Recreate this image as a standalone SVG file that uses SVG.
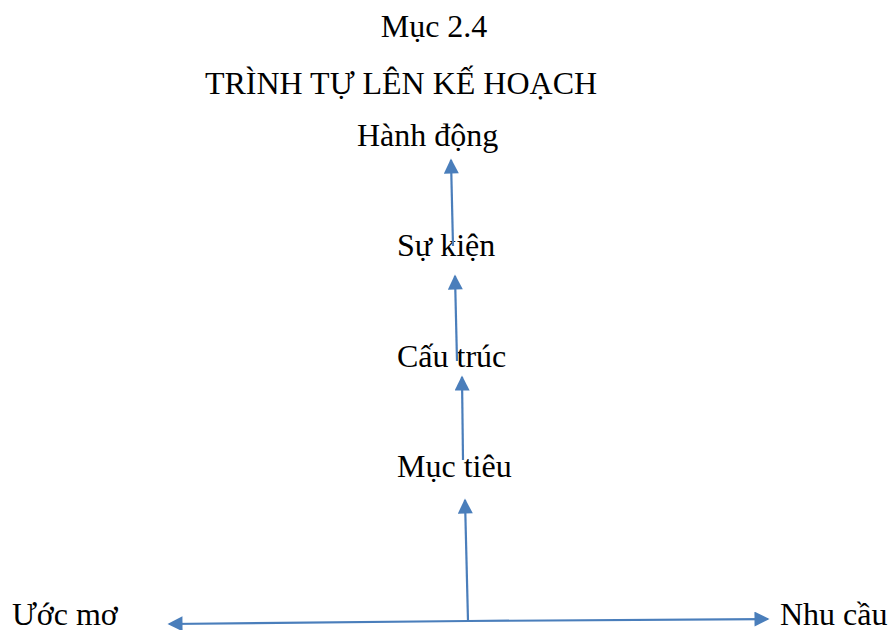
<svg xmlns="http://www.w3.org/2000/svg" width="890" height="630" viewBox="0 0 890 630">
<style>
text{font-family:"Liberation Serif","Times New Roman",serif;font-size:32px;fill:#000}
.c line{stroke:#4a7ebb;stroke-width:2.2;fill:none;marker-end:url(#ah)}
</style>
<defs>
<marker id="ah" viewBox="0 0 10 10" refX="9" refY="5" markerUnits="userSpaceOnUse" markerWidth="18" markerHeight="15" orient="auto">
<path d="M0,0 L10,5 L0,10 Z" fill="#4a7ebb"/>
</marker>
</defs>
<rect width="890" height="630" fill="#fff"/>
<g id="title"><text x="434" y="37" text-anchor="middle">Mục 2.4</text>
<text x="401" y="94" text-anchor="middle">TRÌNH TỰ LÊN KẾ HOẠCH</text></g>
<g id="hanhdong"><text x="357" y="146">Hành động</text></g>
<g id="sukien"><text x="397" y="256">Sự kiện</text></g>
<g id="cautruc"><text x="397" y="367">Cấu trúc</text></g>
<g id="muctieu"><text x="397" y="477">Mục tiêu</text></g>
<g id="uocmo"><text x="12" y="625">Ước mơ</text></g>
<g id="nhucau"><text x="780" y="625">Nhu cầu</text></g>
<g class="c" id="connectors">
<line x1="453" y1="246" x2="451" y2="160"/>
<line x1="457" y1="361" x2="455" y2="276"/>
<line x1="463" y1="460" x2="462" y2="377"/>
<line x1="468" y1="621" x2="465" y2="500"/>
<line x1="468" y1="621" x2="169" y2="624"/>
<line x1="468" y1="621" x2="768" y2="619"/>
</g>
</svg>
